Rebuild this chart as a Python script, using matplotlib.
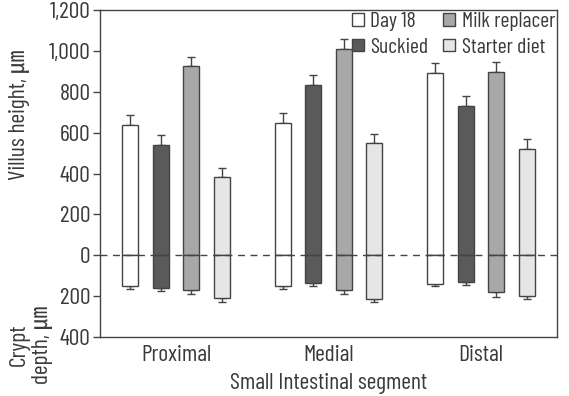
import matplotlib
matplotlib.use("Agg")
import matplotlib.pyplot as plt
import numpy as np
from matplotlib import font_manager

names = {f.name for f in font_manager.fontManager.ttflist}
prefs = ["Barlow Condensed", "Archivo Narrow", "Roboto Condensed", "Liberation Sans Narrow", "Liberation Sans"]
fam = next(p for p in prefs if p in names)
plt.rcParams['font.family'] = [fam, 'DejaVu Sans', 'Noto Sans CJK KR']

segments = ["Proximal", "Medial", "Distal"]
groups = ["Day 18", "Suckied", "Milk replacer", "Starter diet"]

villus = {
    "Day 18": [639, 648, 894],
    "Suckied": [538, 832, 729],
    "Milk replacer": [926, 1011, 897],
    "Starter diet": [382, 547, 522],
}
villus_se = {
    "Day 18": [48, 49, 48],
    "Suckied": [49, 50, 48],
    "Milk replacer": [45, 47, 48],
    "Starter diet": [47, 48, 49],
}
crypt = {
    "Day 18": [149, 149, 140],
    "Suckied": [160, 137, 133],
    "Milk replacer": [168, 168, 181],
    "Starter diet": [211, 213, 197],
}
crypt_se = {
    "Day 18": [15, 15, 12],
    "Suckied": [13, 12, 13],
    "Milk replacer": [22, 22, 21],
    "Starter diet": [16, 16, 16],
}
yticks = [-400, -200, 0, 200, 400, 600, 800, 1000, 1200]
ytick_labels = ["400", "200", "0", "200", "400", "600", "800", "1,000", "1,200"]

colors = {"Day 18": "#ffffff", "Suckied": "#5a5a5a", "Milk replacer": "#a8a8a8", "Starter diet": "#e6e6e6"}
edge = "#444444"
txt = "#3a3a3a"
fs = 17

fig = plt.figure(figsize=(5.69, 3.96), dpi=100)
ax = fig.add_axes([0.1757, 0.149, 0.8033, 0.8257])

x = np.arange(len(segments))
offsets = [-0.3, -0.1, 0.1, 0.3]
w = 0.105
for g, off in zip(groups, offsets):
    v = np.array(villus[g]); c = np.array(crypt[g])
    ax.bar(x + off, v, width=w, color=colors[g], edgecolor=edge, linewidth=1.0, zorder=2)
    ax.bar(x + off, -c, width=w, color=colors[g], edgecolor=edge, linewidth=1.0, zorder=2)
    ax.errorbar(x + off, v, yerr=[np.zeros(3), villus_se[g]], fmt='none', ecolor=edge,
                elinewidth=1.0, capsize=3, capthick=1.0, zorder=1)
    ax.errorbar(x + off, -c, yerr=[crypt_se[g], np.zeros(3)], fmt='none', ecolor=edge,
                elinewidth=1.0, capsize=3, capthick=1.0, zorder=1)

ax.axhline(0, color=edge, linestyle=(0, (5, 4)), linewidth=1.0, zorder=3)
ax.set_xlim(-0.5, 2.5)
ax.set_ylim(-400, 1200)
ax.set_yticks(yticks)
ax.set_yticklabels(ytick_labels)
ax.set_xticks(x)
ax.set_xticklabels(segments)
ax.tick_params(axis='x', length=0, pad=6, labelsize=fs, labelcolor=txt)
ax.tick_params(axis='y', length=5, width=1, color=edge, labelsize=fs, labelcolor=txt, pad=2)
for s in ax.spines.values():
    s.set_color(edge); s.set_linewidth(1.0)

ax.set_xlabel("Small Intestinal segment", fontsize=fs, color=txt, labelpad=5)
fig.text(0.034, 0.71, "Villus height, ㎛", rotation=90, ha='center', va='center', fontsize=fs, color=txt)
fig.text(0.055, 0.13, "Crypt\ndepth, ㎛", rotation=90, ha='center', va='center', fontsize=fs, color=txt,
         linespacing=1.15)

handles = [plt.Rectangle((0, 0), 1, 1, facecolor=colors[g], edgecolor=edge, linewidth=1.0) for g in groups]
leg = ax.legend(handles, groups, ncol=2, loc='upper right', frameon=False, fontsize=15.5,
                handlelength=0.55, handleheight=0.55, handletextpad=0.3, columnspacing=0.7,
                labelspacing=0.3, borderaxespad=0.1, borderpad=0.0, bbox_to_anchor=(1.0, 1.0))
for t in leg.get_texts():
    t.set_color(txt)

fig.savefig("out.png", dpi=100)
